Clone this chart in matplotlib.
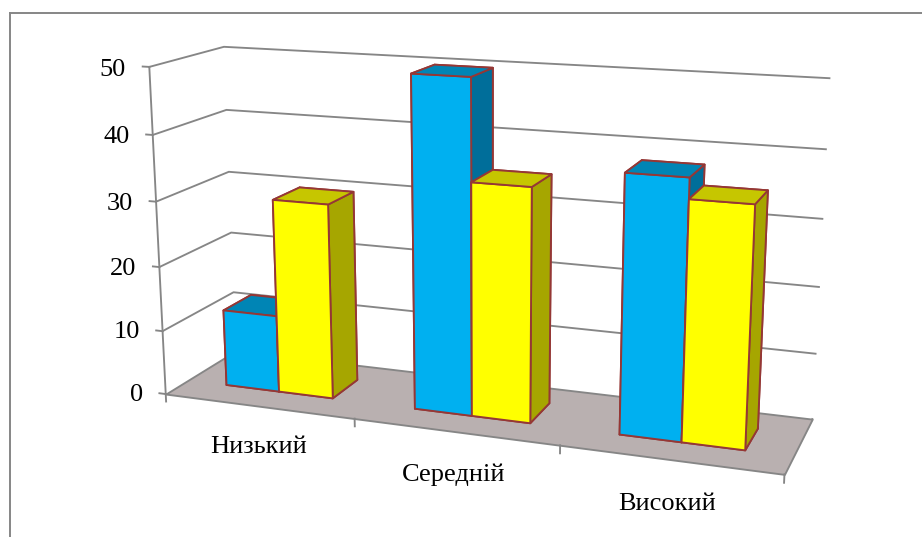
import matplotlib
matplotlib.use('Agg')
import matplotlib.pyplot as plt
from matplotlib.lines import Line2D
from mpl_toolkits.mplot3d import proj3d
from mpl_toolkits.mplot3d.art3d import Poly3DCollection

# Chart data
categories = ['Низький', 'Середній', 'Високий']
series_blue = [12, 50, 38]
series_yellow = [30, 35, 35]
z_ticks = [0, 10, 20, 30, 40, 50]

# Colours: front, top and side face of each series
BLUE = ('#00B0F0', '#0085B5', '#006E9A')
YELLOW = ('#FFFF00', '#C6C600', '#A6A600')
EDGE = '#953735'
GRID = '#868686'
FLOOR = '#B9B0B0'

# Bar footprint inside the unit of one category and the depth axis
BAR_GAP = 0.213
DEPTH_FRONT, DEPTH_BACK = 0.306, 0.708

plt.rcParams['font.family'] = ['Liberation Serif', 'DejaVu Serif']
W_PX, H_PX = 922, 537
fig = plt.figure(figsize=(W_PX / 100, H_PX / 100), dpi=100)

# Outer chart frame: only the top and left sides fall inside the figure
fx, fy = 10.0 / W_PX, 1 - 12.5 / H_PX
fig.add_artist(Line2D([fx, fx], [0, fy], color=GRID, lw=1.4))
fig.add_artist(Line2D([fx, 1], [fy, fy], color=GRID, lw=1.4))

ax = fig.add_axes([0, 0, 1, 1], projection='3d', computed_zorder=False)
n_cat = len(categories)
z_max = z_ticks[-1]
ax.set_xlim(0, n_cat, view_margin=0)
ax.set_ylim(0, 1, view_margin=0)
ax.set_zlim(0, z_max, view_margin=0)
ax.view_init(elev=14.456, azim=-69.957, roll=0.061)
ax.set_proj_type('persp', focal_length=0.431)
ax.set_box_aspect((1.883, 0.449, 1.0))
ax.set_axis_off()

# Ticks and labels are drawn by hand below, so the built-in ones stay empty
ax.set_xticks([])
ax.set_yticks([])
ax.set_zticks([])
for axis in (ax.xaxis, ax.yaxis, ax.zaxis):
    axis.set_visible(False)
    axis.label.set_visible(False)
    axis.offsetText.set_visible(False)
for title in (ax.title, ax._left_title, ax._right_title):
    title.set_visible(False)

# Scale and offset from projected view coordinates to figure pixels
scale, off_x, off_y = 3939.7, 481.9, 293.4
xl = ax.viewLim.intervalx
yl = ax.viewLim.intervaly
left = off_x + scale * xl[0]
bottom = off_y + scale * yl[0]
width = scale * (xl[1] - xl[0])
height = scale * (yl[1] - yl[0])
ax.set_position([left / W_PX, bottom / H_PX, width / W_PX, height / H_PX])


def label_at(x, y, z, text, ha):
    # Project the 3D anchor once and place the label as ordinary 2D text
    px, py, _ = proj3d.proj_transform(x, y, z, ax.get_proj())
    ax.text2D(px, py, text, transform=ax.transData, ha=ha, va='center',
              fontsize=19, color='black', zorder=20)


# Walls: gridlines run along the left wall and then across the back wall
for z in z_ticks[1:]:
    ax.plot([0, 0, n_cat], [0, 1, 1], [z, z, z], color=GRID, lw=1.35, zorder=1,
            solid_joinstyle='round')
ax.plot([n_cat, n_cat], [0, 1], [0, 0], color=GRID, lw=1.35, zorder=1)

# Floor
floor = Poly3DCollection([[(0, 0, 0), (n_cat, 0, 0), (n_cat, 1, 0), (0, 1, 0)]],
                         facecolor=FLOOR, edgecolor=GRID, linewidth=1.35, zorder=2)
ax.add_collection3d(floor)

# Vertical axis with its ticks and labels
ax.plot([0, 0], [0, 0], [0, z_max], color=GRID, lw=1.35, zorder=3)
for z in z_ticks:
    ax.plot([-0.035, 0], [0, 0], [z, z], color=GRID, lw=1.35, zorder=3)
    label_at(-0.125, 0, z - 0.62, str(z), 'right')

# Category ticks and labels along the front edge of the floor
for i in range(n_cat + 1):
    ax.plot([i, i], [0, 0], [0, -1.2], color=GRID, lw=1.35, zorder=3)
for i, name in enumerate(categories):
    label_at(i + 0.492, 0, -6.6, name, 'center')


def draw_bar(x0, x1, value, faces, order):
    front, top, side = faces
    # Face order used by bar3d: bottom, top, front, back, left, right
    ax.bar3d(x0, DEPTH_FRONT, 0, x1 - x0, DEPTH_BACK - DEPTH_FRONT, value,
             color=[front, top, front, front, front, side], shade=False,
             edgecolor=EDGE, linewidth=1.35, zorder=order)


for i in range(n_cat):
    mid = i + 0.5
    draw_bar(i + BAR_GAP, mid, series_blue[i], BLUE, 4 + 2 * i)
    draw_bar(mid, i + 1 - BAR_GAP, series_yellow[i], YELLOW, 5 + 2 * i)

fig.savefig('out.png', dpi=100)
